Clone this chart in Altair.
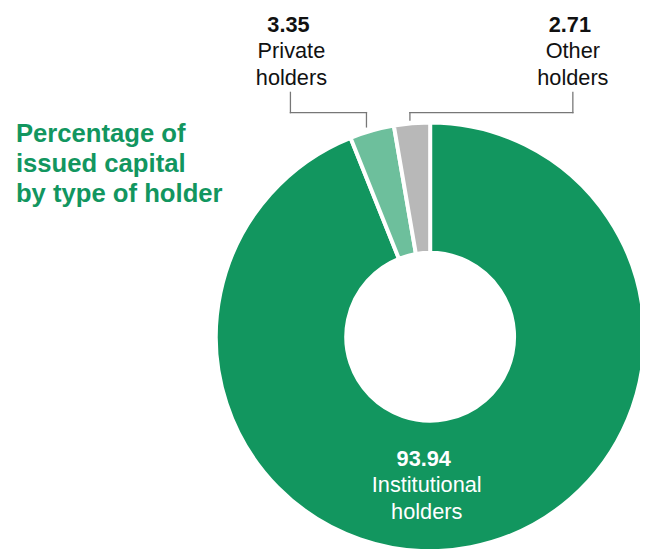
import altair as alt
import pandas as pd

# ---- data ----
holder_types = ["Institutional holders", "Private holders", "Other holders"]
percentages = [93.94, 3.35, 2.71]
label_lines = [["Institutional", "holders"], ["Private", "holders"], ["Other", "holders"]]
title_lines = ["Percentage of", "issued capital", "by type of holder"]

# ---- styles / layout ----
slice_colors = ["#12965F", "#6DBF9C", "#B8B8B8"]
FONT = "Liberation Sans"
W, H = 640, 541
CX, CY = 427.5, 329.5
R_OUT, R_IN = 217, 85
LINE_H = 27
FS = 22

df = pd.DataFrame({"holder": holder_types, "pct": percentages, "order": list(range(len(holder_types)))})

donut = alt.Chart(df).mark_arc(
    outerRadius=R_OUT, innerRadius=R_IN, stroke="white", strokeWidth=4
).encode(
    theta=alt.Theta("pct:Q", stack=True),
    order=alt.Order("order:Q"),
    color=alt.Color("holder:N", scale=alt.Scale(domain=holder_types, range=slice_colors), legend=None),
    x=alt.value(CX),
    y=alt.value(CY),
)

# label anchors (center x, baseline of number line) and colours
anchors = [(424, 460, "white"), (287, 20.5, "#111111"), (572, 20.5, "#111111")]

layers = [donut]
for i, (ax, ay, col) in enumerate(anchors):
    num = alt.Chart(pd.DataFrame({"t": [f"{percentages[i]:.2f}"]})).mark_text(
        font=FONT, fontSize=FS, fontWeight="bold", color=col, align="center", baseline="alphabetic", dx=-3
    ).encode(text="t:N", x=alt.value(ax), y=alt.value(ay))
    txt = alt.Chart(pd.DataFrame({"t": ["\n".join(label_lines[i])]})).mark_text(
        font=FONT, fontSize=FS, color=col, align="center", baseline="alphabetic",
        lineBreak="\n", lineHeight=LINE_H
    ).encode(text="t:N", x=alt.value(ax), y=alt.value(ay + LINE_H))
    layers += [num, txt]

# leader lines (segments)
segments = [
    (363, 363, 117, 102.5), (286, 363, 102.5, 102.5), (286, 286, 102.5, 82),
    (407, 407, 110, 102.5), (407, 572, 102.5, 102.5), (572, 572, 102.5, 82),
]
one = pd.DataFrame({"k": [0]})
for x1, x2, y1, y2 in segments:
    layers.append(
        alt.Chart(one).mark_rule(color="#777777", strokeWidth=1.3, strokeCap="square").encode(
            x=alt.value(x1), x2=alt.value(x2), y=alt.value(y1), y2=alt.value(y2)
        )
    )

title = alt.Chart(pd.DataFrame({"t": ["\n".join(title_lines)]})).mark_text(
    font=FONT, fontSize=26, fontWeight="bold", color="#12965F", align="left", baseline="alphabetic",
    lineBreak="\n", lineHeight=30.5
).encode(text="t:N", x=alt.value(8), y=alt.value(132))
layers.append(title)

chart = alt.layer(*layers).properties(
    width=W, height=H, padding=0, autosize="none"
).configure_view(stroke=None)

chart.save("out.html", embed_options={"renderer": "svg", "actions": False})
